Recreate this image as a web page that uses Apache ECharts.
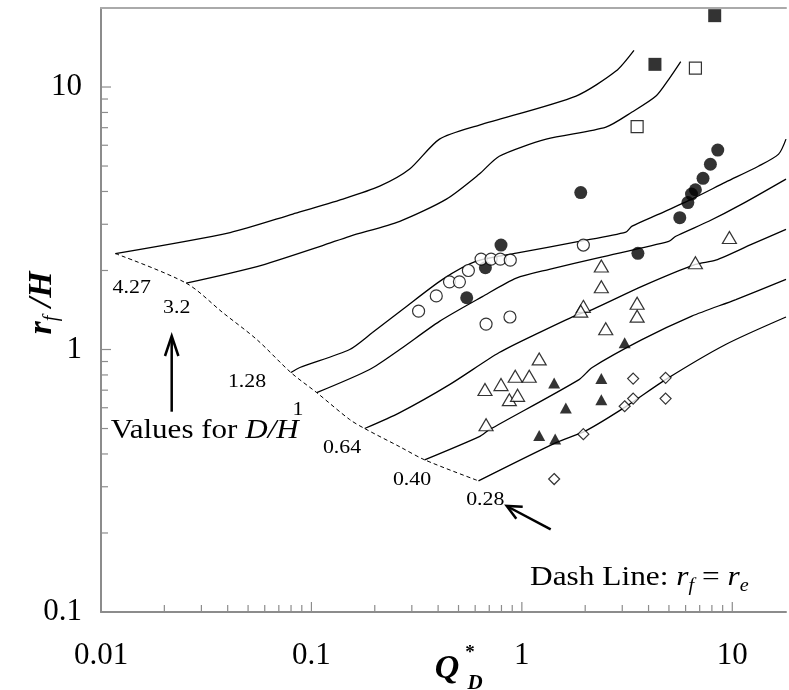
<!DOCTYPE html>
<html>
<head>
<meta charset="utf-8">
<script src="https://cdn.jsdelivr.net/npm/echarts@6/dist/echarts.min.js"></script>
<style>
html, body { margin: 0; padding: 0; background: #fff; }
#chart { width: 789px; height: 690px; }
</style>
</head>
<body>
<div id="chart"></div>
<script>
// curves for each D/H value, [Q*_D, r_f/H]
var curve427 = [[0.0117, 2.32], [0.0411, 2.79], [0.0816, 3.28], [0.141, 3.74], [0.211, 4.19], [0.293, 4.87], [0.406, 6.33], [0.628, 7.16], [1.81, 9.24], [2.80, 11.5], [3.41, 13.8]];
var curve32 = [[0.0254, 1.79], [0.0551, 2.07], [0.113, 2.49], [0.152, 2.70], [0.263, 3.08], [0.438, 3.74], [0.628, 4.66], [0.781, 5.45], [1.305, 6.33], [2.51, 7.04], [3.34, 8.03], [4.34, 9.24], [4.99, 10.7], [5.69, 12.5]];
var curve128 = [[0.0799, 0.817], [0.0881, 0.854], [0.152, 1.0], [0.195, 1.16], [0.271, 1.42], [0.420, 1.85], [0.608, 2.17], [0.941, 2.33], [1.87, 2.58], [3.12, 2.80], [3.34, 2.95], [4.48, 3.28], [6.42, 3.74], [9.30, 4.34], [13.3, 4.99], [16.6, 5.55], [18, 6.33]];
var curve1 = [[0.106, 0.685], [0.189, 0.839], [0.263, 1.0], [0.406, 1.28], [0.649, 1.59], [0.941, 1.87], [1.35, 2.02], [2.33, 2.24], [4.99, 2.58], [5.39, 2.70], [7.73, 3.08], [11.1, 3.58], [18, 4.46]];
var curve064 = [[0.179, 0.50], [0.263, 0.575], [0.453, 0.735], [0.781, 0.974], [1.209, 1.16], [1.81, 1.35], [2.16, 1.42], [3.72, 1.74], [6.68, 2.11], [8.34, 2.19], [12.4, 2.52], [18, 2.87]];
var curve040 = [[0.345, 0.380], [0.628, 0.466], [0.701, 0.495], [1.87, 0.768], [2.16, 0.854], [3.72, 1.09], [6.42, 1.34], [10.4, 1.55], [18, 1.85]];
var curve028 = [[0.622, 0.316], [1.455, 0.442], [2.02, 0.491], [3.12, 0.606], [4.82, 0.768], [9.30, 1.045], [18, 1.33]];
// r_f = r_e
var dashLine = [[0.0117, 2.32], [0.0254, 1.79], [0.0380, 1.38], [0.0551, 1.09], [0.0799, 0.817], [0.106, 0.685], [0.152, 0.541], [0.179, 0.50], [0.263, 0.426], [0.345, 0.380], [0.622, 0.316]];

// measured points
var filledSquare = [[8.25, 18.7], [4.29, 12.2]];
var openSquare = [[6.68, 11.8], [3.53, 7.06]];
var filledCircle = [[1.905, 3.96], [0.796, 2.50], [0.671, 2.05], [0.547, 1.575], [3.56, 2.325], [5.63, 3.18], [6.15, 3.63], [6.40, 3.91], [6.68, 4.06], [7.26, 4.49], [7.87, 5.08], [8.53, 5.75]];
var openCircle = [[0.323, 1.40], [0.392, 1.60], [0.453, 1.81], [0.505, 1.81], [0.557, 2.00], [0.640, 2.21], [0.714, 2.21], [0.790, 2.21], [0.881, 2.19], [0.676, 1.25], [0.878, 1.33], [1.96, 2.50]];
var openTriangle = [[2.386, 2.08], [2.386, 1.735], [6.68, 2.14], [9.69, 2.67], [3.53, 1.50], [3.53, 1.34], [1.96, 1.46], [1.905, 1.40], [2.504, 1.20], [1.209, 0.921], [0.930, 0.791], [1.084, 0.791], [0.796, 0.735], [0.668, 0.704], [0.872, 0.644], [0.954, 0.669], [0.676, 0.517]];
var filledTriangle = [[3.08, 1.06], [1.424, 0.746], [2.386, 0.775], [2.386, 0.644], [1.618, 0.599], [1.209, 0.470], [1.44, 0.456]];
var openDiamond = [[3.38, 0.775], [4.82, 0.780], [3.38, 0.650], [3.08, 0.608], [4.82, 0.650], [1.96, 0.476], [1.424, 0.321]];

var xTickLabels = ['0.01', '0.1', '1', '10'];
var yTickLabels = ['0.1', '1', '10'];
var xDecades = [0.01, 0.1, 1, 10];
var yDecades = [0.1, 1, 10];

var serif = '"Liberation Serif", "Times New Roman", serif';
var axisGrey = '#8c8c8c';

function decadeLabel(labels, first) {
	return function(v) {
		var l = Math.log10(v);
		var r = Math.round(l);
		if (Math.abs(l - r) > 1e-6) return '';
		return labels[r - first] || '';
	};
}

// tick marks (drawn inside the plot)
var xTicks = [], yTicks = [];
xDecades.forEach(function(d, i) {
	if (i > 0) xTicks.push([d, 0.1, 1]);
	for (var k = 2; k <= 9; k++) xTicks.push([d * k, 0.1, 0]);
});
yDecades.forEach(function(d, i) {
	if (i > 0) yTicks.push([0.01, d, 1]);
	for (var k = 2; k <= 9; k++) if (d * k < 20) yTicks.push([0.01, d * k, 0]);
});

function curve(data) {
	return {
		type: 'line',
		data: data,
		showSymbol: false,
		smooth: 0.25,
		silent: true,
		lineStyle: { color: '#000', width: 1.3 },
		z: 3
	};
}

function points(data, symbol, size, filled) {
	return {
		type: 'scatter',
		data: data,
		symbol: symbol,
		symbolSize: size,
		silent: true,
		itemStyle: filled ? { color: '#000' } : { color: '#fff', borderColor: '#000', borderWidth: 1.2 },
		z: 5
	};
}

function txt(x, y, text, size, align) {
	return {
		type: 'text', x: x, y: y, scaleX: 1.15, z: 100,
		style: {
			text: text, font: size + 'px ' + serif, fill: '#000',
			align: align || 'center', verticalAlign: 'middle',
			textAlign: align || 'center', textVerticalAlign: 'middle'
		}
	};
}

var chart = echarts.init(document.getElementById('chart'));
chart.setOption({
	animation: false,
	backgroundColor: '#fff',
	grid: { left: 101, right: 0, top: 8, bottom: 78, containLabel: false },
	xAxis: [{
		type: 'log', logBase: 10, min: 0.01, max: 18,
		axisLine: { show: true, lineStyle: { color: axisGrey, width: 2 } },
		axisTick: { show: false },
		splitLine: { show: false },
		minorTick: { show: false },
		axisLabel: { formatter: decadeLabel(xTickLabels, -2), fontFamily: serif, fontSize: 31, color: '#000', margin: 28 }
	}, {
		type: 'log', logBase: 10, min: 0.01, max: 18, position: 'top',
		axisLine: { show: true, lineStyle: { color: '#aaa', width: 2 } },
		axisTick: { show: false }, axisLabel: { show: false }, splitLine: { show: false }
	}],
	yAxis: {
		type: 'log', logBase: 10, min: 0.1, max: 20,
		axisLine: { show: true, lineStyle: { color: axisGrey, width: 2 } },
		axisTick: { show: false },
		splitLine: { show: false },
		axisLabel: { formatter: decadeLabel(yTickLabels, -1), fontFamily: serif, fontSize: 31, color: '#000', margin: 19 }
	},
	series: [
		curve(curve427), curve(curve32), curve(curve128), curve(curve1),
		curve(curve064), curve(curve040), curve(curve028),
		{
			type: 'line', data: dashLine, showSymbol: false, smooth: 0.3, silent: true,
			lineStyle: { color: '#000', width: 1, type: [4, 3] }, z: 3
		},
		points(filledSquare, 'rect', 13, true),
		points(openSquare, 'rect', 12, false),
		points(filledCircle, 'circle', 13, true),
		points(openCircle, 'circle', 12, false),
		points(openTriangle, 'triangle', [14, 12], false),
		points(filledTriangle, 'triangle', [12, 11], true),
		points(openDiamond, 'diamond', 11, false),
		{
			type: 'custom', data: xTicks, silent: true, clip: false, z: 2,
			renderItem: function(params, api) {
				var p = api.coord([api.value(0), api.value(1)]);
				var len = api.value(2) ? 10 : 7;
				return { type: 'line', shape: { x1: p[0], y1: p[1], x2: p[0], y2: p[1] - len }, style: { stroke: axisGrey, lineWidth: 1.2 } };
			}
		},
		{
			type: 'custom', data: yTicks, silent: true, clip: false, z: 2,
			renderItem: function(params, api) {
				var p = api.coord([api.value(0), api.value(1)]);
				var len = api.value(2) ? 10 : 7;
				return { type: 'line', shape: { x1: p[0], y1: p[1], x2: p[0] + len, y2: p[1] }, style: { stroke: axisGrey, lineWidth: 1.2 } };
			}
		}
	],
	graphic: [
		txt(131.7, 288.3, '4.27', 19),
		txt(176.7, 308.3, '3.2', 19),
		txt(247, 381.7, '1.28', 19),
		txt(298, 410, '1', 19),
		txt(342, 448.3, '0.64', 19),
		txt(412, 479.7, '0.40', 19),
		txt(485.3, 500.3, '0.28', 19),
		{
			type: 'text', x: 110.7, y: 431, scaleX: 1.15, z: 100,
			style: {
				text: '{n|Values for }{i|D/H}', align: 'left', verticalAlign: 'middle',
				textAlign: 'left', textVerticalAlign: 'middle',
				rich: {
					n: { font: '27px ' + serif, fill: '#000' },
					i: { font: 'italic 27px ' + serif, fill: '#000' }
				}
			}
		},
		{
			type: 'text', x: 530, y: 578, scaleX: 1.12, z: 100,
			style: {
				text: '{n|Dash Line: }{i|r}{s|f}{n| = }{i|r}{s|e}', align: 'left', verticalAlign: 'middle',
				textAlign: 'left', textVerticalAlign: 'middle',
				rich: {
					n: { font: '28px ' + serif, fill: '#000', lineHeight: 34 },
					i: { font: 'italic 28px ' + serif, fill: '#000', lineHeight: 34 },
					s: { font: 'italic 18px ' + serif, fill: '#000', lineHeight: 14, verticalAlign: 'bottom' }
				}
			}
		},
		// arrows
		{ type: 'line', z: 100, shape: { x1: 171.7, y1: 411.7, x2: 171.7, y2: 337 }, style: { stroke: '#000', lineWidth: 2.5 } },
		{ type: 'polyline', z: 100, shape: { points: [[165, 356], [171.7, 336], [178.4, 356]] }, style: { stroke: '#000', lineWidth: 2.5, fill: null } },
		{ type: 'line', z: 100, shape: { x1: 550.7, y1: 529.3, x2: 507.5, y2: 506.5 }, style: { stroke: '#000', lineWidth: 2.5 } },
		{ type: 'polyline', z: 100, shape: { points: [[516.3, 518.8], [506.7, 506], [522.7, 506.8]] }, style: { stroke: '#000', lineWidth: 2.5, fill: null } },
		// axis titles
		{
			type: 'text', x: 42, y: 303, rotation: Math.PI / 2, z: 100,
			style: {
				text: '{b|r}{s|f}{b| /H}', align: 'center', verticalAlign: 'middle',
				textAlign: 'center', textVerticalAlign: 'middle',
				rich: {
					b: { font: 'italic bold 34px ' + serif, fill: '#000', lineHeight: 40 },
					s: { font: 'italic 20px ' + serif, fill: '#000', lineHeight: 15, verticalAlign: 'bottom' }
				}
			}
		},
		{ type: 'text', x: 447, y: 669, z: 100, style: { text: 'Q', font: 'italic bold 34px ' + serif, fill: '#000', align: 'center', verticalAlign: 'middle', textAlign: 'center', textVerticalAlign: 'middle' } },
		{ type: 'text', x: 470, y: 653, z: 100, style: { text: '*', font: 'bold 19px ' + serif, fill: '#000', align: 'center', verticalAlign: 'middle', textAlign: 'center', textVerticalAlign: 'middle' } },
		{ type: 'text', x: 475, y: 684, z: 100, style: { text: 'D', font: 'italic bold 21px ' + serif, fill: '#000', align: 'center', verticalAlign: 'middle', textAlign: 'center', textVerticalAlign: 'middle' } }
	]
});
</script>
</body>
</html>
